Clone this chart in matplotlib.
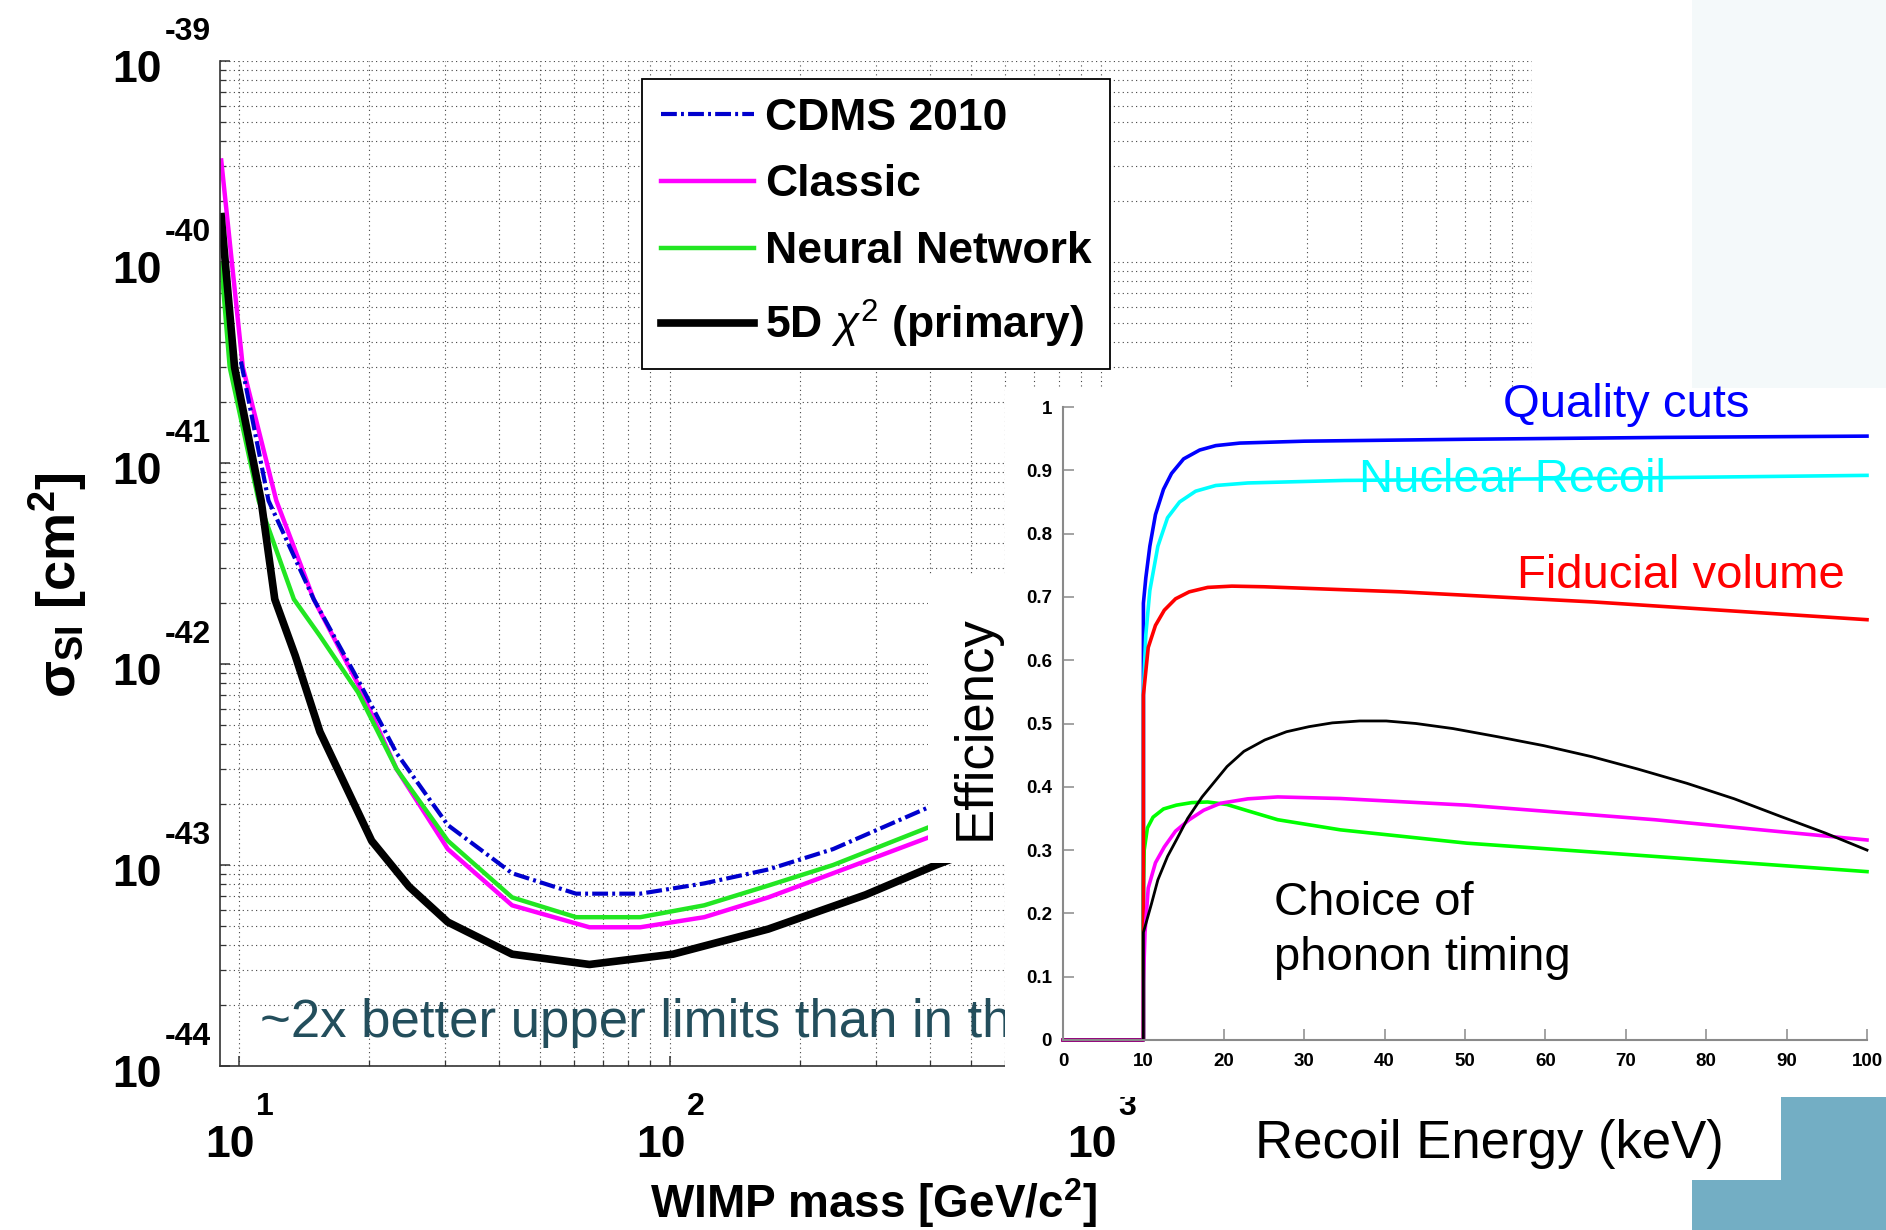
import matplotlib
matplotlib.use("Agg")
import matplotlib.pyplot as plt
from matplotlib.patches import Rectangle

plt.rcParams['font.family'] = ['Liberation Sans', 'DejaVu Sans']
plt.rcParams['mathtext.fontset'] = 'custom'
plt.rcParams['mathtext.rm'] = 'Liberation Sans'
plt.rcParams['mathtext.it'] = 'Liberation Sans:italic'
plt.rcParams['mathtext.bf'] = 'Liberation Sans:bold'

W, H = 1886, 1230


def fx(px):
    return px / W


def fy(py):
    return 1 - py / H


# ---- WIMP exclusion limits (mass GeV/c^2, sigma_SI cm^2)
cdms_mass = [10.1, 11.7, 14.9, 18.9, 23.2, 30.5, 43.0, 60.5, 85.3, 120, 169, 239, 401, 450]
cdms_sigma = [3.2e-41, 6.5e-42, 2.1e-42, 8.3e-43, 3.6e-43, 1.58e-43, 9.1e-44, 7.2e-44,
              7.2e-44, 8.1e-44, 9.5e-44, 1.2e-43, 1.95e-43, 2.2e-43]

classic_mass = [9.09, 10.2, 12.2, 14.9, 18.9, 23.2, 30.5, 43.0, 65.0, 85.3, 120, 169, 239, 401, 450]
classic_sigma = [3.2e-40, 3.0e-41, 6.5e-42, 2.1e-42, 7.9e-43, 3.0e-43, 1.2e-43, 6.3e-44,
                 4.9e-44, 4.9e-44, 5.5e-44, 6.9e-44, 9.1e-44, 1.38e-43, 1.5e-43]

nn_mass = [9.09, 9.51, 11.1, 13.4, 15.4, 18.9, 23.2, 30.5, 43.0, 60.5, 85.3, 120, 169, 239, 401, 450]
nn_sigma = [9.8e-41, 3.0e-41, 6.5e-42, 2.1e-42, 1.38e-42, 7.2e-43, 3.0e-43, 1.32e-43,
            6.9e-44, 5.5e-44, 5.5e-44, 6.3e-44, 7.9e-44, 1.0e-43, 1.55e-43, 1.7e-43]

chi2_mass = [9.09, 9.76, 11.25, 12.1, 13.5, 15.4, 20.3, 24.8, 30.5, 43.0, 65.0, 101.6, 169, 284, 414, 450]
chi2_sigma = [1.68e-40, 3.0e-41, 6.5e-42, 2.1e-42, 1.1e-42, 4.6e-43, 1.32e-43, 7.8e-44, 5.2e-44,
              3.6e-44, 3.2e-44, 3.6e-44, 4.8e-44, 7.1e-44, 1.0e-43, 1.07e-43]

legend_labels = ['CDMS 2010', 'Classic', 'Neural Network', r'5D $\chi^2$ (primary)']

# ---- efficiency vs recoil energy (keV)
quality_E = [0, 10, 10, 10.3, 10.8, 11.5, 12.5, 13.5, 15, 17, 19, 22, 30, 50, 75, 100]
quality_eff = [0, 0, 0.69, 0.73, 0.78, 0.83, 0.87, 0.895, 0.918, 0.932, 0.939, 0.943,
               0.946, 0.949, 0.952, 0.954]

nr_E = [0, 10, 10, 10.3, 10.8, 11.8, 13, 14.5, 16.5, 19, 23, 35, 65, 100]
nr_eff = [0, 0, 0.55, 0.64, 0.71, 0.78, 0.825, 0.85, 0.867, 0.876, 0.88, 0.884, 0.887, 0.892]

fid_E = [0, 10, 10, 10.6, 11.5, 12.6, 14, 15.7, 18, 21, 25, 42, 66, 100]
fid_eff = [0, 0, 0.545, 0.62, 0.655, 0.679, 0.697, 0.708, 0.715, 0.717, 0.716, 0.708,
           0.692, 0.664]

nnt_E = [0, 10, 10, 10.1, 10.5, 11.2, 12.5, 14.1, 16, 18, 20.4, 23, 26.7, 34.5, 50.2, 73.6, 100]
nnt_eff = [0, 0, 0.24, 0.30, 0.335, 0.352, 0.365, 0.371, 0.375, 0.376, 0.372, 0.362,
           0.348, 0.332, 0.311, 0.29, 0.266]

cls_E = [0, 10, 10, 10.2, 10.6, 11.5, 12.6, 14, 15.7, 17.5, 19.6, 23, 26.7, 34.5, 50.2, 73.6, 100]
cls_eff = [0, 0, 0.09, 0.17, 0.24, 0.28, 0.305, 0.33, 0.348, 0.363, 0.374, 0.381, 0.384,
           0.3815, 0.371, 0.348, 0.316]

chi_E = [0, 10, 10, 11, 11.8, 13, 14.1, 15.5, 17.3, 20.4, 22.5, 25.1, 27.8, 30.6, 33.5, 36.9,
         40.2, 43.9, 48.5, 54.1, 59.8, 65.8, 71.5, 77.6, 83.5, 89.3, 94.8, 100]
chi_eff = [0, 0, 0.17, 0.215, 0.253, 0.29, 0.316, 0.35, 0.384, 0.432, 0.456, 0.474, 0.487,
           0.495, 0.501, 0.504, 0.504, 0.500, 0.492, 0.479, 0.465, 0.4475, 0.428, 0.4055,
           0.381, 0.353, 0.327, 0.300]

eff_ticks = [0, 0.1, 0.2, 0.3, 0.4, 0.5, 0.6, 0.7, 0.8, 0.9, 1]
eff_ticklabels = ['0', '0.1', '0.2', '0.3', '0.4', '0.5', '0.6', '0.7', '0.8', '0.9', '1']
energy_ticks = list(range(0, 101, 10))

fig = plt.figure(figsize=(W / 100, H / 100), dpi=100)
fig.patch.set_facecolor('white')

# ================= main limit plot =================
ax = fig.add_axes([fx(220), fy(1066), 1312 / W, 1005 / H])
ax.set_xscale('log')
ax.set_yscale('log')
ax.set_xlim(9.03, 1e4)
ax.set_ylim(1e-44, 1e-39)

l_cls, = ax.plot(classic_mass, classic_sigma, color='#ff00ff', lw=3.2, label=legend_labels[1])
l_nn, = ax.plot(nn_mass, nn_sigma, color='#22e622', lw=3.2, label=legend_labels[2])
l_cdms, = ax.plot(cdms_mass, cdms_sigma, color='#0000cd', lw=3.0,
                  dashes=(3.8, 1.0, 0.7, 1.0), label=legend_labels[0])
l_chi, = ax.plot(chi2_mass, chi2_sigma, color='black', lw=5.5, label=legend_labels[3])

ax.grid(True, which='both', linestyle=(0, (1, 3)), color='#444444', lw=0.8)
for s in ['top', 'right']:
    ax.spines[s].set_visible(False)
for s in ['left', 'bottom']:
    ax.spines[s].set_color('#333333')
    ax.spines[s].set_linewidth(1.2)
ax.tick_params(which='both', direction='in', top=False, right=False,
               labelbottom=False, labelleft=False, color='#333333')
ax.tick_params(which='major', length=7, width=1.1)
ax.tick_params(which='minor', length=4.5, width=0.9)

# matlab style power-of-ten tick labels
for k in [1, 2, 3]:
    ax.annotate('10', xy=(10 ** k, 0), xycoords=ax.get_xaxis_transform(),
                xytext=(-9, -91), textcoords='offset pixels', ha='center', va='baseline',
                fontsize=32, fontweight='bold', annotation_clip=False)
    ax.annotate(str(k), xy=(10 ** k, 0), xycoords=ax.get_xaxis_transform(),
                xytext=(17, -49), textcoords='offset pixels', ha='left', va='baseline',
                fontsize=23, fontweight='bold', annotation_clip=False)
for k in range(-44, -38):
    ax.annotate('10', xy=(0, 10.0 ** k), xycoords=ax.get_yaxis_transform(),
                xytext=(-58, -21), textcoords='offset pixels', ha='right', va='baseline',
                fontsize=32, fontweight='bold', annotation_clip=False)
    ax.annotate(str(k), xy=(0, 10.0 ** k), xycoords=ax.get_yaxis_transform(),
                xytext=(-9, 21), textcoords='offset pixels', ha='right', va='baseline',
                fontsize=23, fontweight='bold', annotation_clip=False)

leg = ax.legend([l_cdms, l_cls, l_nn, l_chi], legend_labels, loc='upper left',
                bbox_to_anchor=(fx(642), fy(79)), bbox_transform=fig.transFigure,
                prop={'family': 'Liberation Sans', 'weight': 'bold', 'size': 32},
                handlelength=2.1, handletextpad=0.25, labelspacing=0.58, borderpad=0.42,
                borderaxespad=0, fancybox=False, edgecolor='black', framealpha=1)
leg.get_frame().set_linewidth(1.3)

ax.text(fx(260), fy(1037), '~2x better upper limits than in th', transform=fig.transFigure,
        fontsize=38, color='#234e5c', ha='left', va='baseline', clip_on=False)

fig.text(fx(58), fy(585), r'$\mathbf{\sigma_{SI}}$ [cm$^{\mathbf{2}}$]', rotation=90,
         ha='center', va='center', fontsize=39, fontweight='bold')
fig.text(fx(874), fy(1203), r'WIMP mass [GeV/c$^{\mathbf{2}}$]', ha='center', va='center',
         fontsize=33, fontweight='bold')

# ================= slide decoration / inset background =================
def box(x0, y0, x1, y1, color):
    fig.add_artist(Rectangle((fx(x0), fy(y1)), (x1 - x0) / W, (y1 - y0) / H,
                             transform=fig.transFigure, facecolor=color,
                             edgecolor='none', zorder=1))


box(1692, 0, 1886, 388, '#f4f9fa')
box(1005, 388, 1886, 1097, 'white')
box(928, 576, 1006, 863, 'white')
box(1781, 1097, 1886, 1230, '#73aec4')
box(1692, 1180, 1886, 1230, '#73aec4')

# ================= efficiency inset =================
ax2 = fig.add_axes([fx(1063), fy(1040), 804 / W, 633 / H], zorder=3)
ax2.patch.set_alpha(0)
ax2.set_xlim(0, 100)
ax2.set_ylim(0, 1)
ax2.plot(quality_E, quality_eff, color='#0000ff', lw=2.6, clip_on=False)
ax2.plot(nr_E, nr_eff, color='#00ffff', lw=2.6, clip_on=False)
ax2.plot(nnt_E, nnt_eff, color='#00ff00', lw=2.6, clip_on=False)
ax2.plot(fid_E, fid_eff, color='#ff0000', lw=2.6, clip_on=False)
ax2.plot(cls_E, cls_eff, color='#ff00ff', lw=2.6, clip_on=False)
ax2.plot(chi_E, chi_eff, color='black', lw=2.0, clip_on=False)

for s in ['top', 'right']:
    ax2.spines[s].set_visible(False)
for s in ['left', 'bottom']:
    ax2.spines[s].set_color('#8a8a8a')
    ax2.spines[s].set_linewidth(1.5)
ax2.set_xticks(energy_ticks)
ax2.set_xticklabels([str(v) for v in energy_ticks], fontweight='bold', fontsize=13.5)
ax2.set_yticks(eff_ticks)
ax2.set_yticklabels(eff_ticklabels, fontweight='bold', fontsize=13.5)
ax2.tick_params(direction='in', length=8, width=1.1, color='#8a8a8a', top=False, right=False)
ax2.tick_params(axis='x', pad=9)
ax2.tick_params(axis='y', pad=8)

ax2.text(54.7, 0.984, 'Quality cuts', color='#0000ff', fontsize=34, va='baseline')
ax2.text(36.8, 0.866, 'Nuclear Recoil', color='#00ffff', fontsize=34, va='baseline')
ax2.text(56.5, 0.714, 'Fiducial volume', color='#ff0000', fontsize=34, va='baseline')
ax2.text(26.2, 0.1975, 'Choice of', color='black', fontsize=34, va='baseline')
ax2.text(26.2, 0.1106, 'phonon timing', color='black', fontsize=34, va='baseline')

fig.text(fx(976), fy(728), 'Efficiency', rotation=90, ha='center', va='center',
         fontsize=38, zorder=4)
fig.text(fx(1255), fy(1158), 'Recoil Energy (keV)', ha='left', va='baseline',
         fontsize=38, zorder=4)

fig.savefig('out.png', dpi=100)
